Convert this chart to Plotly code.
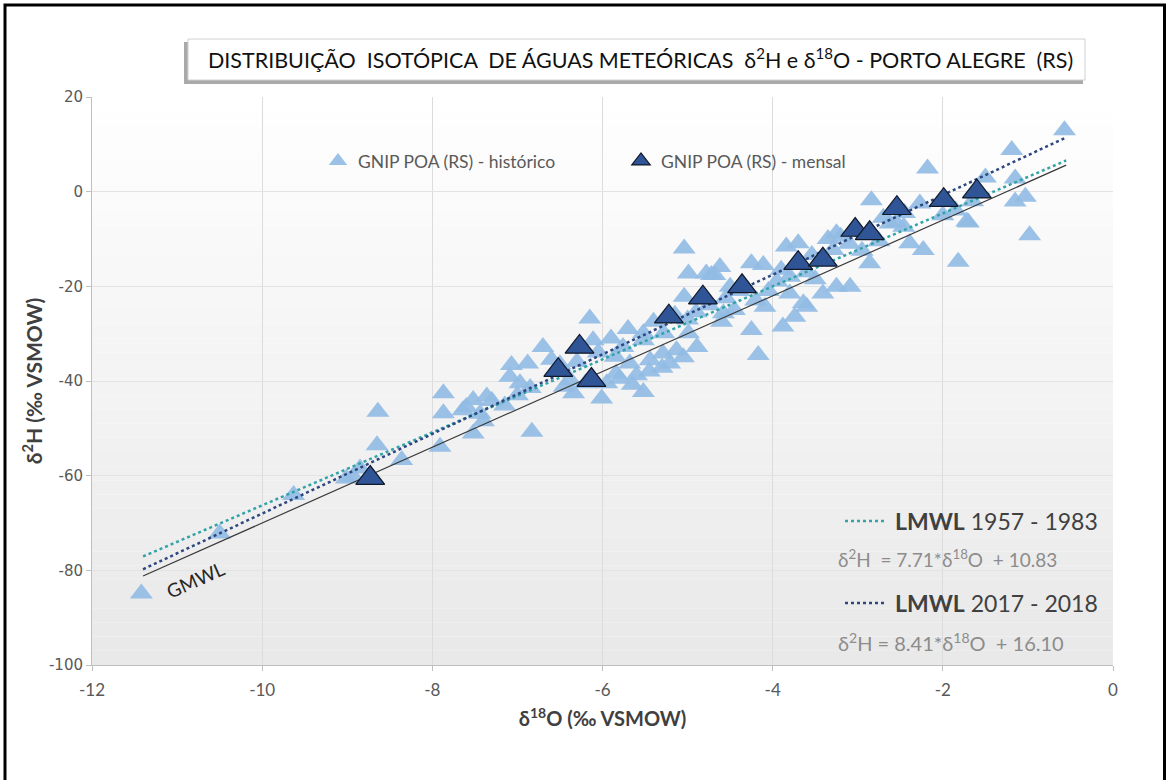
import plotly.graph_objects as go

# ---------------- data ----------------
hist_d18O = [-11.42, -10.50, -9.63, -9.01, -8.93, -8.85, -8.64, -8.65, -8.36, -7.87, -7.87, -7.91,
             -7.64, -7.60, -7.52, -7.52, -7.44, -7.40, -7.36, -7.30, -7.15, -7.09, -7.07, -7.00,
             -6.97, -6.88, -6.85, -6.83, -6.70, -6.60, -6.50, -6.45, -6.38, -6.34, -6.30, -6.20,
             -6.15, -6.11, -6.05, -6.01, -5.95, -5.90, -5.85, -5.84, -5.80, -5.76, -5.70, -5.68,
             -5.65, -5.60, -5.52, -5.52, -5.52, -5.45, -5.44, -5.40, -5.30, -5.29, -5.28, -5.21,
             -5.15, -5.13, -5.05, -5.04, -5.04, -5.00, -4.99, -4.99, -4.90, -4.89, -4.78, -4.75,
             -4.72, -4.68, -4.62, -4.60, -4.58, -4.55, -4.50, -4.45, -4.40, -4.25, -4.25, -4.20,
             -4.17, -4.11, -4.09, -4.05, -3.95, -3.90, -3.88, -3.84, -3.80, -3.80, -3.74, -3.70,
             -3.64, -3.60, -3.60, -3.54, -3.50, -3.41, -3.35, -3.29, -3.25, -3.25, -3.20, -3.10,
             -3.09, -2.95, -2.86, -2.84, -2.75, -2.70, -2.62, -2.55, -2.46, -2.45, -2.39, -2.27,
             -2.23, -2.18, -2.00, -1.85, -1.82, -1.72, -1.70, -1.65, -1.50, -1.19, -1.15, -1.15,
             -1.03, -0.98, -0.57]
hist_d2H = [-84.9, -72.2, -64.1, -60.6, -60.2, -58.5, -46.5, -53.6, -56.7, -42.6, -46.8, -53.9,
            -46.2, -45.5, -44.0, -51.1, -46.9, -48.5, -43.3, -44.2, -45.2, -39.1, -36.6, -43.0,
            -40.5, -36.3, -41.5, -50.7, -32.8, -35.5, -36.5, -41.2, -39.8, -42.6, -36.0, -40.5,
            -26.8, -31.4, -34.0, -43.7, -40.5, -31.0, -34.9, -38.4, -39.5, -32.8, -29.0, -36.3,
            -40.8, -38.8, -42.3, -29.9, -31.4, -38.0, -35.6, -27.5, -37.2, -34.2, -29.9, -36.3,
            -26.0, -33.5, -35.0, -12.0, -22.2, -27.0, -17.3, -29.9, -25.5, -32.8, -17.3, -24.0,
            -17.6, -17.6, -15.9, -27.5, -25.7, -22.5, -20.1, -25.0, -21.0, -15.1, -29.2, -23.0,
            -34.5, -15.5, -24.3, -21.0, -19.0, -16.5, -28.5, -11.6, -21.5, -18.0, -26.4, -10.9,
            -23.6, -24.3, -17.0, -13.4, -18.5, -21.5, -10.0, -12.3, -8.8, -20.1, -9.5, -11.0,
            -20.1, -12.5, -15.1, -1.8, -10.5, -5.5, -6.7, -6.5, -7.4, -4.5, -10.9, -2.5,
            -12.3, 4.9, -5.0, -4.0, -14.8, -6.3, -6.5, -2.0, 3.0, 8.8, 2.8, -2.1,
            -1.1, -9.2, 13.0]

mens_d18O = [-8.73, -6.52, -6.27, -6.13, -5.22, -4.82, -4.36, -3.70, -3.41, -3.03, -2.86, -2.54, -1.99, -1.60]
mens_d2H = [-60.5, -37.7, -32.8, -39.8, -26.4, -22.4, -20.0, -15.1, -14.4, -8.1, -8.8, -3.5, -1.8, 0.0]

line_x = [-11.4, -0.55]
gmwl_coef = (8.0, 10.0)
lmwl1_coef = (7.71, 10.83)
lmwl2_coef = (8.41, 16.10)

x_ticks = [-12, -10, -8, -6, -4, -2, 0]
y_ticks = [-100, -80, -60, -40, -20, 0, 20]

# ---------------- figure ----------------
W, H = 1169, 780
ML, MR, MT, MB = 92, 56, 97, 115
PW, PH = W - ML - MR, H - MT - MB


def px2paper_x(px):
    return (px - ML) / PW


def px2paper_y(py):
    return (H - MB - py) / PH


GREY_TXT = "#595959"
BODY_FONT = "Lato, 'Open Sans', sans-serif"

fig = go.Figure()

fig.add_trace(go.Scatter(
    x=hist_d18O, y=hist_d2H, mode="markers", name="GNIP POA (RS) - histórico",
    marker=dict(symbol="triangle-up", size=20, color="rgba(146,188,228,0.92)", line=dict(width=0))))
fig.add_trace(go.Scatter(
    x=line_x, y=[gmwl_coef[0] * v + gmwl_coef[1] for v in line_x],
    mode="lines", line=dict(color="#3a3a3a", width=1.2), showlegend=False, hoverinfo="skip"))
fig.add_trace(go.Scatter(
    x=line_x, y=[lmwl1_coef[0] * v + lmwl1_coef[1] for v in line_x],
    mode="lines", line=dict(color="#33a3a8", width=2.5, dash="dot"), showlegend=False, hoverinfo="skip"))
fig.add_trace(go.Scatter(
    x=line_x, y=[lmwl2_coef[0] * v + lmwl2_coef[1] for v in line_x],
    mode="lines", line=dict(color="#2e4780", width=2.5, dash="dot"), showlegend=False, hoverinfo="skip"))
fig.add_trace(go.Scatter(
    x=mens_d18O, y=mens_d2H, mode="markers", name="GNIP POA (RS) - mensal",
    marker=dict(symbol="triangle-up", size=25, color="#2f5597", line=dict(width=1.2, color="#111827"))))

shapes = []
# gradient background for plot area
n_bands = 40
for i in range(n_bands):
    t = i / (n_bands - 1)
    c = int(255 - (255 - 233) * t)
    shapes.append(dict(type="rect", xref="x domain", yref="y domain",
                       x0=0, x1=1, y0=1 - (i + 1) / n_bands, y1=1 - i / n_bands,
                       fillcolor=f"rgb({c},{c},{c})", line=dict(width=0), layer="below"))
# outer black frame
shapes.append(dict(type="rect", xref="paper", yref="paper",
                   x0=px2paper_x(5), x1=px2paper_x(1164.5), y0=px2paper_y(800), y1=px2paper_y(5),
                   line=dict(color="black", width=3), fillcolor="rgba(0,0,0,0)"))
# title box shadow + box
shapes.append(dict(type="rect", xref="paper", yref="paper",
                   x0=px2paper_x(184), x1=px2paper_x(1083), y0=px2paper_y(84), y1=px2paper_y(42),
                   line=dict(width=0), fillcolor="#a9a9a9"))
shapes.append(dict(type="rect", xref="paper", yref="paper",
                   x0=px2paper_x(188), x1=px2paper_x(1085), y0=px2paper_y(80), y1=px2paper_y(39),
                   line=dict(color="#d0d0d0", width=1), fillcolor="white"))
# legend-style line samples for LMWLs
shapes.append(dict(type="line", xref="paper", yref="paper",
                   x0=px2paper_x(845), x1=px2paper_x(886), y0=px2paper_y(521), y1=px2paper_y(521),
                   line=dict(color="#33a3a8", width=2.5, dash="dot")))
shapes.append(dict(type="line", xref="paper", yref="paper",
                   x0=px2paper_x(845), x1=px2paper_x(886), y0=px2paper_y(603), y1=px2paper_y(603),
                   line=dict(color="#2e4780", width=2.5, dash="dot")))

annotations = [
    dict(xref="paper", yref="paper", x=px2paper_x(640), y=px2paper_y(59),
         text="DISTRIBUIÇÃO  ISOTÓPICA  DE ÁGUAS METEÓRICAS  δ<sup>2</sup>H e δ<sup>18</sup>O - PORTO ALEGRE  (RS)",
         showarrow=False, font=dict(family=BODY_FONT, size=21.5, color="#111111"),
         xanchor="center", yanchor="middle"),
    dict(xref="paper", yref="paper", x=px2paper_x(893), y=px2paper_y(521),
         text="<b>LMWL</b> 1957 - 1983", showarrow=False,
         font=dict(family=BODY_FONT, size=23, color="#404040"), xanchor="left", yanchor="middle"),
    dict(xref="paper", yref="paper", x=px2paper_x(836), y=px2paper_y(558),
         text="δ<sup>2</sup>H  = 7.71*δ<sup>18</sup>O  + 10.83", showarrow=False,
         font=dict(family=BODY_FONT, size=19, color="#8c8c8c"), xanchor="left", yanchor="middle"),
    dict(xref="paper", yref="paper", x=px2paper_x(893), y=px2paper_y(603),
         text="<b>LMWL</b> 2017 - 2018", showarrow=False,
         font=dict(family=BODY_FONT, size=23, color="#404040"), xanchor="left", yanchor="middle"),
    dict(xref="paper", yref="paper", x=px2paper_x(836), y=px2paper_y(642),
         text="δ<sup>2</sup>H = 8.41*δ<sup>18</sup>O  + 16.10", showarrow=False,
         font=dict(family=BODY_FONT, size=20, color="#8c8c8c"), xanchor="left", yanchor="middle"),
    dict(x=-10.78, y=-82.0, xref="x", yref="y", text="GMWL", showarrow=False, textangle=-24,
         font=dict(family=BODY_FONT, size=19, color="#262626"), xanchor="center", yanchor="middle"),
]

fig.update_layout(
    width=W, height=H,
    margin=dict(l=ML, r=MR, t=MT, b=MB),
    paper_bgcolor="white", plot_bgcolor="white",
    shapes=shapes, annotations=annotations,
    showlegend=True,
    legend=dict(orientation="h", x=px2paper_x(318), y=px2paper_y(161), xanchor="left", yanchor="middle",
                bgcolor="rgba(0,0,0,0)", font=dict(family=BODY_FONT, size=17.5, color=GREY_TXT),
                entrywidth=258, entrywidthmode="pixels", itemsizing="trace"),
    xaxis=dict(range=[-12, 0], tickvals=x_ticks, ticktext=[str(v) for v in x_ticks],
               showgrid=True, gridcolor="#dcdcdc", gridwidth=1, zeroline=False,
               showline=True, linecolor="#bfbfbf", ticks="outside", ticklen=5, tickcolor="#bfbfbf",
               ticklabelstandoff=5,
               tickfont=dict(family=BODY_FONT, size=17, color=GREY_TXT),
               title=dict(text="<b>δ<sup>18</sup>O (‰ VSMOW)</b>", standoff=12,
                          font=dict(family=BODY_FONT, size=20, color="#404040"))),
    yaxis=dict(range=[-100, 20], tickvals=y_ticks, ticktext=[str(v) for v in y_ticks],
               showgrid=True, gridcolor="#e3e3e3", gridwidth=1, zeroline=False,
               showline=True, linecolor="#bfbfbf", ticks="outside", ticklen=5, tickcolor="#bfbfbf",
               tickfont=dict(family="'DejaVu Sans', sans-serif", size=15, color=GREY_TXT),
               title=dict(text="<b>δ<sup>2</sup>H (‰ VSMOW)</b>", standoff=0,
                          font=dict(family=BODY_FONT, size=21, color="#404040"))),
)

fig.write_html("out.html", config={"displayModeBar": False},
               post_script="document.body.style.margin='0px';document.body.style.overflow='hidden';")
